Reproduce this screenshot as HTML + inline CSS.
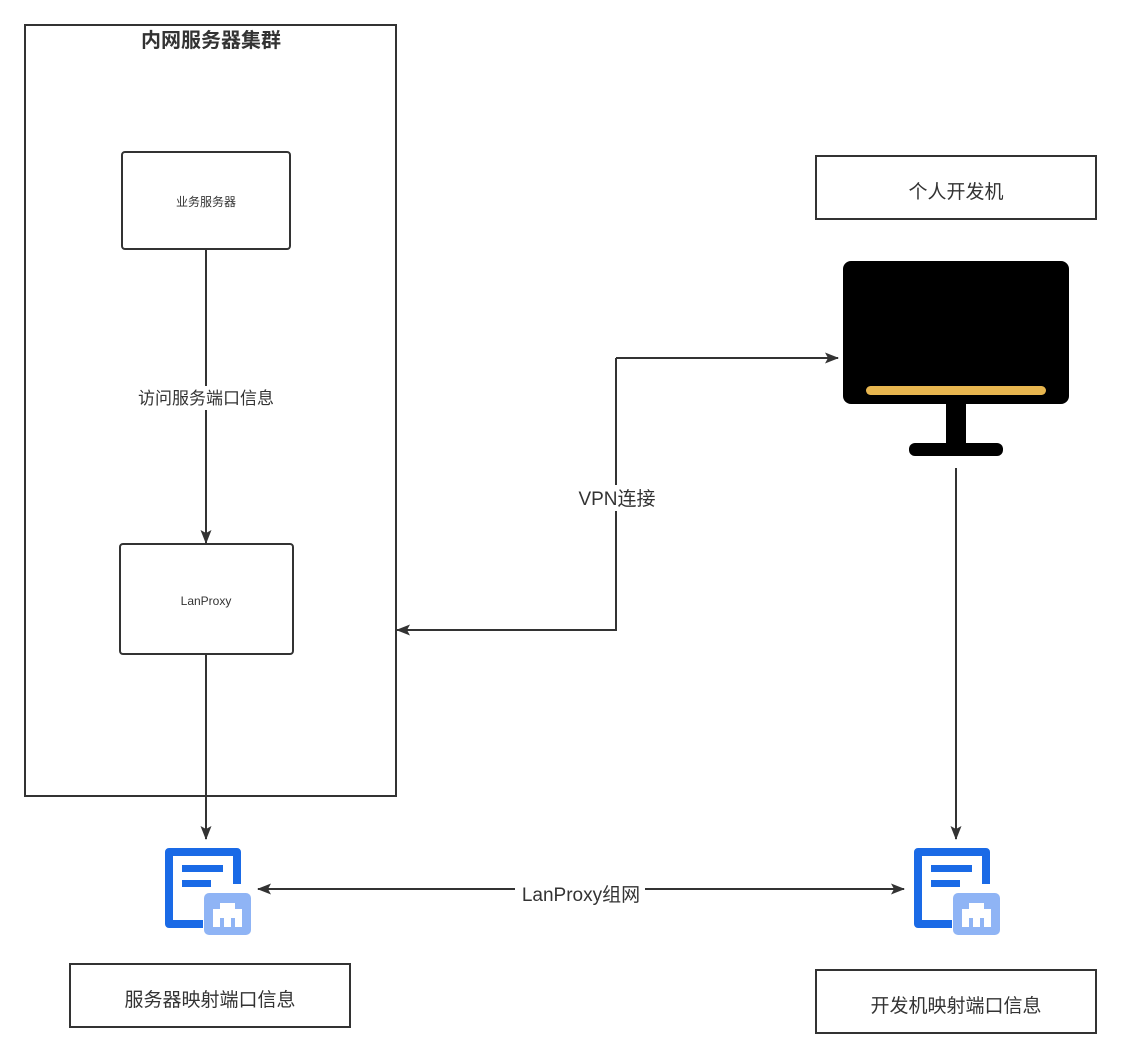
<!DOCTYPE html>
<html><head><meta charset="utf-8"><style>
html,body{margin:0;padding:0;background:#fff;}
svg{display:block;}
text{font-family:"Liberation Sans","Noto Sans CJK SC",sans-serif;fill:#333;}
</style></head><body>
<svg width="1121" height="1059" viewBox="0 0 1121 1059" xmlns="http://www.w3.org/2000/svg">
<defs>
<marker id="a" markerWidth="14" markerHeight="12" refX="13" refY="6" orient="auto" markerUnits="userSpaceOnUse">
<path d="M0,0.5 L14,6 L0,11.5 L3,6 Z" fill="#333"/>
</marker>
<g id="icon">
<path d="M38 76 H4 V4 H72 V36" fill="none" stroke="#1a6ae6" stroke-width="8" stroke-linejoin="round"/>
<rect x="17" y="17" width="41" height="7" fill="#1a6ae6"/>
<rect x="17" y="32" width="29" height="7" fill="#1a6ae6"/>
<rect x="39" y="45" width="47" height="42" rx="5" fill="#8fb4f5"/>
<path d="M55 55 H70 V61 H77 V79 H48 V61 H55 Z" fill="#fff"/>
<rect x="55" y="70" width="4" height="9" fill="#8fb4f5"/>
<rect x="66" y="70" width="4" height="9" fill="#8fb4f5"/>
</g>
</defs>

<rect x="25" y="25" width="371" height="771" fill="none" stroke="#333" stroke-width="2"/>
<text x="211" y="47" text-anchor="middle" font-size="20" font-weight="bold">内网服务器集群</text>

<rect x="122" y="152" width="168" height="97" rx="3" fill="#fff" stroke="#333" stroke-width="2"/>
<text x="206" y="206" text-anchor="middle" font-size="12">业务服务器</text>

<rect x="120" y="544" width="173" height="110" rx="3" fill="#fff" stroke="#333" stroke-width="2"/>
<text x="206" y="605" text-anchor="middle" font-size="12">LanProxy</text>

<line x1="206" y1="250" x2="206" y2="543" stroke="#333" stroke-width="2" marker-end="url(#a)"/>
<rect x="130" y="386" width="150" height="24" fill="#fff"/>
<text x="206" y="404" text-anchor="middle" font-size="17">访问服务端口信息</text>

<line x1="206" y1="655" x2="206" y2="839" stroke="#333" stroke-width="2" marker-end="url(#a)"/>

<polyline points="616,358 616,630 397,630" fill="none" stroke="#333" stroke-width="2" marker-end="url(#a)"/>
<line x1="616" y1="358" x2="838" y2="358" stroke="#333" stroke-width="2" marker-end="url(#a)"/>
<rect x="572" y="485" width="90" height="26" fill="#fff"/>
<text x="617" y="505" text-anchor="middle" font-size="19">VPN连接</text>

<line x1="956" y1="468" x2="956" y2="839" stroke="#333" stroke-width="2" marker-end="url(#a)"/>

<line x1="515" y1="889" x2="258" y2="889" stroke="#333" stroke-width="2" marker-end="url(#a)"/>
<line x1="645" y1="889" x2="904" y2="889" stroke="#333" stroke-width="2" marker-end="url(#a)"/>
<text x="581" y="901" text-anchor="middle" font-size="19">LanProxy组网</text>

<use href="#icon" x="165" y="848"/>
<use href="#icon" x="914" y="848"/>

<rect x="843" y="261" width="226" height="143" rx="8" fill="#000"/>
<rect x="866" y="386" width="180" height="9" rx="4.5" fill="#e8b64f"/>
<rect x="946" y="403" width="20" height="41" fill="#000"/>
<rect x="909" y="443" width="94" height="13" rx="6" fill="#000"/>

<rect x="816" y="156" width="280" height="63" fill="#fff" stroke="#333" stroke-width="2"/>
<text x="956" y="198" text-anchor="middle" font-size="19">个人开发机</text>

<rect x="70" y="964" width="280" height="63" fill="#fff" stroke="#333" stroke-width="2"/>
<text x="210" y="1006" text-anchor="middle" font-size="19">服务器映射端口信息</text>

<rect x="816" y="970" width="280" height="63" fill="#fff" stroke="#333" stroke-width="2"/>
<text x="956" y="1012" text-anchor="middle" font-size="19">开发机映射端口信息</text>
</svg>
</body></html>
